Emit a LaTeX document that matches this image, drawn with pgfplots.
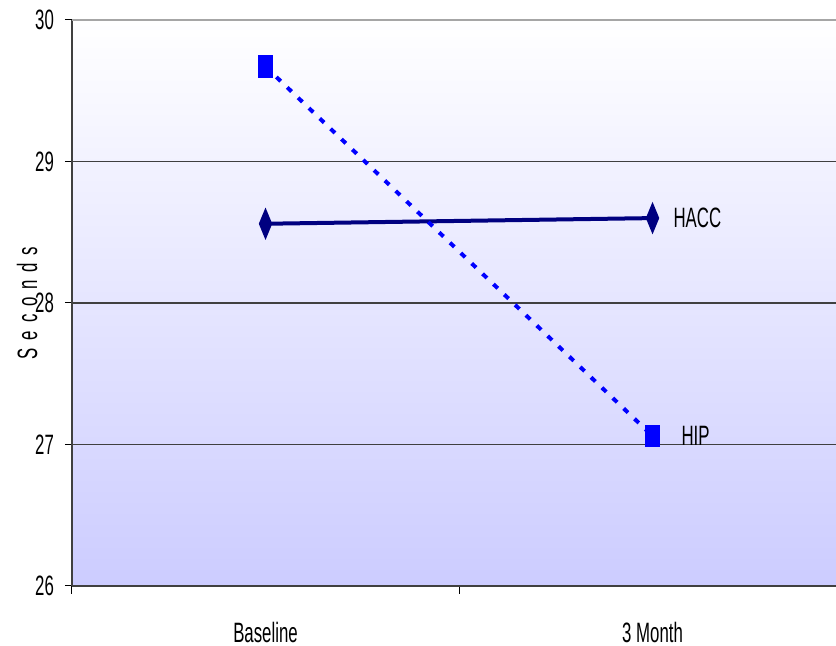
\documentclass[border=0pt]{standalone}
\usepackage{pgfplots}
\pgfplotsset{compat=1.18}
\usepackage{fontspec}
\setmainfont{Liberation Sans}[FakeStretch=0.6]
\newfontfamily\spaced{Liberation Sans}[FakeStretch=0.6,LetterSpace=28]
\definecolor{bgbot}{RGB}{204,204,255}
\definecolor{hacc}{RGB}{0,0,128}
\definecolor{hip}{RGB}{0,0,255}
\definecolor{gridc}{RGB}{64,64,64}
\begin{document}
\begin{tikzpicture}
\begin{axis}[
  scale only axis,
  width=382pt, height=283pt,
  xmin=0.5, xmax=2.474,
  ymin=26, ymax=30,
  axis x line*=bottom,
  axis y line*=left,
  axis line style={draw=gridc, line width=0.6pt},
  axis background/.style={top color=white, bottom color=bgbot},
  xtick={1,2},
  xticklabels={Baseline,3 Month},
  major x tick style={draw=none},
  minor xtick={0.5,1.5,2.5},
  minor x tick style={draw=black, line width=0.5pt},
  minor tick length=4pt,
  xtick align=outside,
  xticklabel style={yshift=-11pt},
  ytick={26,27,28,29,30},
  ytick align=outside,
  major tick length=3.5pt,
  y tick style={draw=black, line width=0.5pt},
  ymajorgrids,
  grid style={draw=gridc, line width=0.6pt},
  yticklabel style={xshift=-2pt},
  tick label style={font=\fontsize{14}{16}\selectfont},
  /pgf/number format/assume math mode=true,
  clip=false,
]
\addplot[color=hacc, line width=2pt, mark=diamond*, mark size=5.5pt, mark options={solid, fill=hacc, xscale=0.55}]
  coordinates {(1,28.56) (2,28.60)};
\addplot[color=hip, line width=2pt, dash pattern=on 3pt off 4.5pt, mark=square*, mark size=4.5pt, mark options={solid, fill=hip, xscale=0.6, yscale=1.05}]
  coordinates {(1,29.67) (2,27.06)};
\draw[gray!70, line width=0.6pt] (rel axis cs:0,1) -- (rel axis cs:1,1);
\node[anchor=west, font=\fontsize{14}{16}\selectfont] at ([xshift=7pt]axis cs:2,28.60) {HACC};
\node[anchor=west, font=\fontsize{14}{16}\selectfont] at ([xshift=11pt]axis cs:2,27.06) {HIP};
\node[rotate=90, font=\fontsize{14}{16}\selectfont\spaced] at ([xshift=-22.5pt]rel axis cs:0,0.5) {Seconds};
\end{axis}
\pgfresetboundingbox
\path[use as bounding box] ([shift={(-36pt,-30pt)}]current axis.south west) rectangle ([shift={(0pt,10pt)}]current axis.north east);
\end{tikzpicture}
\end{document}
